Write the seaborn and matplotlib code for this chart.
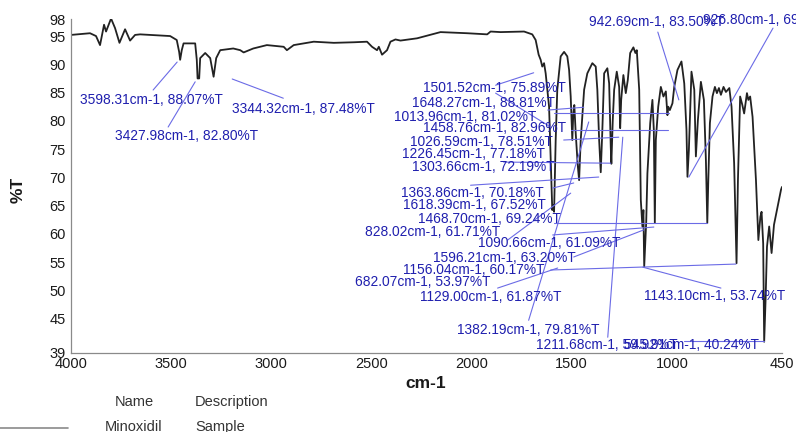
import matplotlib
matplotlib.use("Agg")
import matplotlib.pyplot as plt
import pandas as pd
import seaborn as sns

# ---------------- data ----------------
wavenumber = [4000, 3905, 3875, 3855, 3835, 3825, 3815, 3800, 3780, 3758, 3730, 3705,
              3680, 3655, 3505, 3472, 3460, 3455, 3447, 3438, 3380, 3372, 3368, 3360,
              3355, 3330, 3305, 3288, 3275, 3255, 3190, 3155, 3138, 3090, 3022, 2938,
              2922, 2888, 2838, 2788, 2688, 2588, 2522, 2497, 2472, 2463, 2447, 2422,
              2405, 2380, 2355, 2272, 2155, 2022, 1922, 1905, 1855, 1738, 1697,
              1680, 1665, 1655, 1647, 1638, 1630, 1613, 1602, 1597, 1592, 1588, 1580,
              1572, 1555, 1538, 1522, 1513, 1505, 1497, 1492, 1487, 1480, 1470, 1463,
              1455, 1438, 1422, 1397, 1380, 1372, 1363, 1355, 1347, 1338, 1322, 1313,
              1305, 1302, 1295, 1288, 1275, 1263, 1258, 1253, 1242, 1230, 1220, 1208,
              1192, 1182, 1175, 1163, 1155, 1147, 1142, 1138, 1132, 1128, 1122, 1108,
              1097, 1090, 1085, 1080, 1068, 1055, 1042, 1030, 1022, 1018, 1010, 997,
              988, 972, 952, 938, 927, 922, 915, 902, 888, 880, 870, 855, 840, 830,
              823, 818, 810, 797, 785, 775, 765, 755, 742, 730, 713, 702, 689, 677,
              670, 659, 648, 639, 625, 618, 609, 597, 580, 568, 558, 552, 544, 539,
              532, 525, 514, 502, 490, 472, 455, 450]
transmittance = [95.2, 95.5, 95.0, 93.4, 97.0, 95.8, 96.7, 98.1, 96.4, 93.8, 96.2, 94.2,
                 95.2, 95.3, 95.0, 94.3, 92.2, 90.8, 92.5, 93.7, 93.7, 90.8, 87.5, 87.5,
                 91.1, 92.0, 91.1, 87.8, 91.1, 92.5, 92.8, 92.5, 92.1, 92.8, 93.4, 93.1,
                 92.5, 93.4, 93.7, 94.0, 93.8, 93.9, 94.0, 93.1, 92.5, 93.1, 91.7, 92.5,
                 94.0, 94.4, 94.2, 94.6, 95.7, 95.5, 95.3, 95.8, 95.7, 95.8, 95.3,
                 94.3, 91.7, 90.8, 89.6, 90.2, 88.4, 82.5, 69.5, 64.2, 65.1, 63.9, 76.6,
                 85.5, 91.4, 92.2, 91.4, 89.0, 84.3, 76.6, 81.3, 82.8, 77.8, 72.2, 69.5,
                 76.6, 85.5, 88.4, 90.2, 89.6, 85.5, 76.6, 70.9, 78.4, 88.4, 89.3, 86.6,
                 75.4, 72.4, 80.1, 85.5, 88.7, 86.0, 78.7, 83.7, 88.1, 84.9, 87.2, 92.0,
                 93.0, 92.0, 92.5, 85.5, 66.0, 61.3, 64.2, 54.2, 58.9, 62.1, 70.7, 79.6,
                 83.7, 78.4, 61.9, 76.6, 82.5, 86.0, 84.3, 85.2, 81.0, 82.5, 81.9, 83.1,
                 86.0, 89.0, 90.5, 86.6, 78.4, 70.1, 74.8, 88.7, 85.5, 73.7, 80.1, 86.9,
                 83.7, 73.1, 61.9, 69.5, 79.6, 84.3, 86.0, 84.9, 85.8, 84.6, 86.0, 85.1,
                 85.8, 82.5, 72.5, 54.8, 69.5, 84.3, 82.8, 81.3, 84.9, 83.7, 84.3, 80.7,
                 69.5, 58.9, 63.0, 63.9, 58.3, 40.9, 48.3, 57.7, 61.3, 56.6, 61.6, 64.8,
                 67.8, 68.3]

x_ticks = [4000, 3500, 3000, 2500, 2000, 1500, 1000, 450]
y_ticks = [98, 95, 90, 85, 80, 75, 70, 65, 60, 55, 50, 45, 39]

label_texts = ["3598.31cm-1, 88.07%T", "3427.98cm-1, 82.80%T", "3344.32cm-1, 87.48%T",
               "1501.52cm-1, 75.89%T", "1648.27cm-1, 88.81%T", "1013.96cm-1, 81.02%T",
               "1458.76cm-1, 82.96%T", "1026.59cm-1, 78.51%T", "1226.45cm-1, 77.18%T",
               "1303.66cm-1, 72.19%T", "1363.86cm-1, 70.18%T", "1618.39cm-1, 67.52%T",
               "1468.70cm-1, 69.24%T", "828.02cm-1, 61.71%T", "1090.66cm-1, 61.09%T",
               "1596.21cm-1, 63.20%T", "1156.04cm-1, 60.17%T", "682.07cm-1, 53.97%T",
               "1129.00cm-1, 61.87%T", "1143.10cm-1, 53.74%T", "1382.19cm-1, 79.81%T",
               "1211.68cm-1, 59.92%T", "545.91cm-1, 40.24%T", "942.69cm-1, 83.50%T",
               "926.80cm-1, 69.06%T"]
label_x = [3955, 3780, 3195, 2240, 2295, 2385, 2240, 2305, 2345, 2295, 2350, 2340,
           2265, 2530, 1970, 2195, 2340, 2580, 2255, 1140, 2075, 1680, 1240, 1415, 845]
label_y = [83.7, 77.3, 82.1, 85.8, 83.15, 80.7, 78.7, 76.25, 74.1, 71.8, 67.2, 65.1,
           62.6, 60.3, 58.4, 55.7, 53.6, 51.5, 48.8, 49.0, 43.0, 40.3, 40.3, 97.5, 97.8]

leader_x0 = [3590, 3515, 2940, 1880, 1880, 1620, 1590, 1505, 1540, 1840, 2005, 1595,
             1820, 1590, 1595, 1490, 1605, 755, 1870, 1715, 1320, 940, 1070, 495]
leader_y0 = [85.45, 78.9, 84.0, 86.3, 84.9, 81.9, 81.4, 78.4, 76.6, 72.7, 68.6, 68.1,
             58.9, 61.9, 59.8, 55.9, 53.6, 50.4, 50.4, 44.7, 41.7, 41.0, 95.7, 96.4]
leader_x1 = [3470, 3380, 3195, 1690, 1605, 1440, 1015, 1020, 1265, 1305, 1365, 1490,
             1505, 825, 1090, 1140, 680, 1145, 1570, 1415, 1245, 540, 965, 915]
leader_y1 = [90.4, 86.9, 87.4, 88.5, 78.9, 82.4, 81.4, 78.4, 77.1, 72.5, 70.05, 69.0,
             67.2, 61.9, 61.2, 60.7, 54.65, 54.1, 53.95, 79.8, 77.1, 41.0, 83.7, 70.05]

legend_header = ["Name", "Description"]
legend_row = ["Minoxidil", "Sample"]

# ---------------- drawing ----------------
sns.set_style("white")
plt.rcParams['font.family'] = ['Liberation Sans', 'DejaVu Sans']

W, H = 796, 432
fig = plt.figure(figsize=(W / 100, H / 100), dpi=100)
ax = fig.add_axes([71 / W, 1 - 352.5 / H, 711 / W, 333.4 / H])

df = pd.DataFrame({"cm-1": wavenumber, "%T": transmittance})
sns.lineplot(data=df, x="cm-1", y="%T", sort=False, ax=ax, color="#222222",
             linewidth=1.3, estimator=None)

ax.set_xlim(4000, 450)
ax.set_ylim(39, 98)
ax.set_xticks(x_ticks)
ax.set_xticklabels([str(t) for t in x_ticks])
ax.set_yticks(y_ticks)
ax.set_yticklabels([str(t) for t in y_ticks])
ax.tick_params(axis="x", direction="inout", length=5, width=0.8, color="#8a8a8a",
               labelsize=10.5, labelcolor="#1a1a1a", pad=1)
ax.tick_params(axis="y", direction="out", length=3, width=0.8, color="#8a8a8a",
               labelsize=10.5, labelcolor="#1a1a1a", pad=1)
ax.set_xlabel("")
ax.set_ylabel("")
sns.despine(ax=ax)
for side in ("left", "bottom"):
    ax.spines[side].set_color("#8a8a8a")
    ax.spines[side].set_linewidth(0.9)

# leader lines
for x0, y0, x1, y1 in zip(leader_x0, leader_y0, leader_x1, leader_y1):
    ax.plot([x0, x1], [y0, y1], color="#6b6be6", linewidth=0.8, clip_on=False,
            zorder=3)

# peak labels
for txt, lx, ly in zip(label_texts, label_x, label_y):
    ax.text(lx, ly, txt, ha="left", va="center", fontsize=9.9, color="#1f1fae",
            clip_on=False, zorder=4)

# axis titles
fig.text(18 / W, 1 - 190 / H, "%T", rotation=90, ha="center", va="center",
         fontsize=12.5, fontweight="bold", color="#1a1a1a")
fig.text(426 / W, 1 - 383 / H, "cm-1", ha="center", va="center",
         fontsize=12.5, fontweight="bold", color="#1a1a1a")

# legend table below
fig.text(134 / W, 1 - 402 / H, legend_header[0], ha="center", va="center",
         fontsize=10.5, color="#333333")
fig.text(195 / W, 1 - 402 / H, legend_header[1], ha="left", va="center",
         fontsize=10.5, color="#333333")
fig.text(134 / W, 1 - 427 / H, legend_row[0], ha="center", va="center",
         fontsize=10.5, color="#333333")
fig.text(195 / W, 1 - 427 / H, legend_row[1], ha="left", va="center",
         fontsize=10.5, color="#333333")
fig.add_artist(plt.Line2D([0, 68 / W], [1 - 428 / H, 1 - 428 / H],
                          transform=fig.transFigure, color="#8a8a8a", linewidth=1.2))

fig.savefig("out.png", dpi=100)
